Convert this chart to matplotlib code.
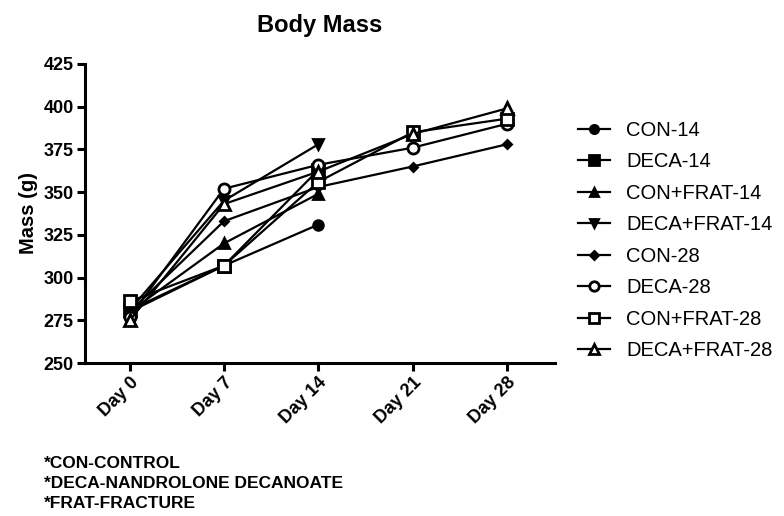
import matplotlib.pyplot as plt

plt.rcParams['font.family'] = ['Liberation Sans', 'DejaVu Sans']

days = ['Day 0', 'Day 7', 'Day 14', 'Day 21', 'Day 28']

con_14 = [280, 307, 331]
deca_14 = [281, 307, 363]
con_frat_14 = [280, 320, 349]
deca_frat_14 = [281, 345, 378]
con_28 = [280, 333, 353, 365, 378]
deca_28 = [277, 352, 366, 376, 390]
con_frat_28 = [286, 307, 356, 385, 393]
deca_frat_28 = [275, 343, 362, 384, 399]

series = [
    ('CON-14', con_14, 'o', 'black', 7),
    ('DECA-14', deca_14, 's', 'black', 8),
    ('CON+FRAT-14', con_frat_14, '^', 'black', 7),
    ('DECA+FRAT-14', deca_frat_14, 'v', 'black', 7),
    ('CON-28', con_28, 'D', 'black', 4.5),
    ('DECA-28', deca_28, 'o', 'white', 8),
    ('CON+FRAT-28', con_frat_28, 's', 'white', 8),
    ('DECA+FRAT-28', deca_frat_28, '^', 'white', 8),
]

fig = plt.figure(figsize=(7.84, 5.16), dpi=100)
ax = fig.add_axes([0.108, 0.2965, 0.600, 0.5795])

for name, vals, mk, fc, ms in series:
    ax.plot(range(len(vals)), vals, color='black', linewidth=1.6,
            marker=mk, markersize=ms, markerfacecolor=fc,
            markeredgecolor='black', markeredgewidth=2.0, label=name)

ax.set_xlim(-0.477, 4.51)
ax.set_ylim(250, 425)
ax.set_yticks(range(250, 426, 25))
ax.set_xticks(range(len(days)))
ax.set_xticklabels(days, rotation=45, ha='right', rotation_mode='anchor',
                   fontsize=13, fontweight='bold')
for lbl in ax.get_yticklabels():
    lbl.set_fontsize(13)
    lbl.set_fontweight('bold')

for side in ['top', 'right']:
    ax.spines[side].set_visible(False)
for side in ['left', 'bottom']:
    ax.spines[side].set_linewidth(2.2)
ax.tick_params(width=2.2, length=6, pad=2)

ax.set_ylabel('Mass (g)', fontsize=14.5, fontweight='bold', labelpad=4)
ax.set_title('Body Mass', fontsize=17, fontweight='bold', pad=23)

ax.legend(loc='upper left', bbox_to_anchor=(1.01, 0.87), frameon=False,
          fontsize=14.5, handlelength=1.6, handletextpad=0.8,
          labelspacing=0.62, markerscale=0.85)

fig.text(0.056, 0.1163, '*CON-CONTROL\n*DECA-NANDROLONE DECANOATE\n*FRAT-FRACTURE',
         fontsize=12.5, fontweight='bold', va='top', linespacing=1.4)

fig.savefig('out.png')
